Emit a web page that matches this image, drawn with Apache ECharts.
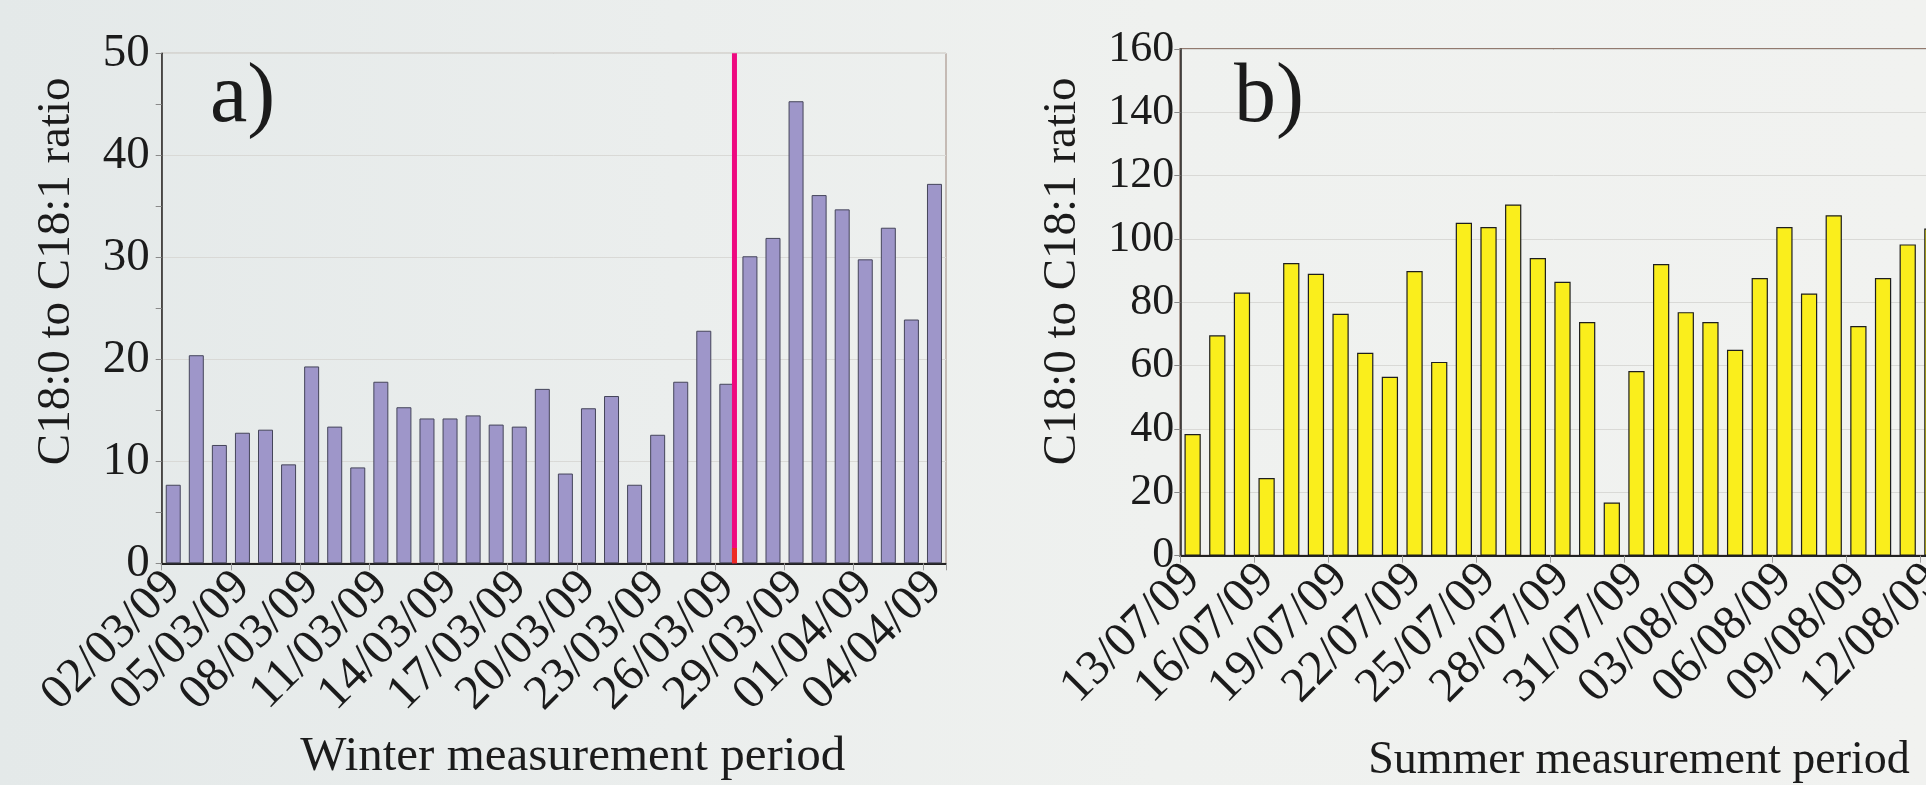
<!DOCTYPE html>
<html>
<head>
<meta charset="utf-8">
<script src="https://cdn.jsdelivr.net/npm/echarts@6/dist/echarts.min.js"></script>
<style>
  html, body { margin: 0; padding: 0; }
  body { width: 1926px; height: 785px; background: linear-gradient(90deg, #e4e9e9 0%, #ebeeed 35%, #eff1ef 60%, #f1f2f0 100%); }
  #chart { width: 1926px; height: 785px; }
</style>
</head>
<body>
<div id="chart"></div>
<script>
// ---------- data ----------
const winterDates = [
  '02/03/09','03/03/09','04/03/09','05/03/09','06/03/09','07/03/09','08/03/09','09/03/09',
  '10/03/09','11/03/09','12/03/09','13/03/09','14/03/09','15/03/09','16/03/09','17/03/09',
  '18/03/09','19/03/09','20/03/09','21/03/09','22/03/09','23/03/09','24/03/09','25/03/09',
  '26/03/09','27/03/09','28/03/09','29/03/09','30/03/09','31/03/09','01/04/09','02/04/09',
  '03/04/09','04/04/09'
];
const winterRatio = [
  7.7, 20.4, 11.6, 12.8, 13.1, 9.7, 19.3, 13.4,
  9.4, 17.8, 15.3, 14.2, 14.2, 14.5, 13.6, 13.4,
  17.1, 8.8, 15.2, 16.4, 7.7, 12.6, 17.8, 22.8,
  17.6, 30.1, 31.9, 45.3, 36.1, 34.7, 29.8, 32.9,
  23.9, 37.2
];
const summerDates = [
  '13/07/09','14/07/09','15/07/09','16/07/09','17/07/09','18/07/09','19/07/09','20/07/09',
  '21/07/09','22/07/09','23/07/09','24/07/09','25/07/09','26/07/09','27/07/09','28/07/09',
  '29/07/09','30/07/09','31/07/09','01/08/09','02/08/09','03/08/09','04/08/09','05/08/09',
  '06/08/09','07/08/09','08/08/09','09/08/09','10/08/09','11/08/09','12/08/09'
];
const summerRatio = [
  38.4, 69.6, 83.1, 24.5, 92.4, 89.0, 76.4, 64.1,
  56.5, 89.9, 61.2, 105.1, 103.8, 110.9, 94.0, 86.5,
  73.8, 16.8, 58.3, 92.1, 76.9, 73.8, 65.0, 87.7,
  103.8, 82.8, 107.5, 72.5, 87.7, 98.3, 103.3
];
const winterTicks = [0, 10, 20, 30, 40, 50];
const summerTicks = [0, 20, 40, 60, 80, 100, 120, 140, 160];
// divider between 26/03/09 and 27/03/09 (in category units)
const winterDivider = 24.83;

// ---------- chart ----------
const FONT = "'Liberation Serif', 'Times New Roman', serif";
const TXT = '#1b1b1b';
const chart = echarts.init(document.getElementById('chart'), null, { renderer: 'canvas' });

function yAxisCommon(ticks, fontSize, margin, minor, gap, padShift) {
  return {
    type: 'value',
    min: ticks[0],
    max: ticks[ticks.length - 1],
    interval: ticks[1] - ticks[0],
    name: 'C18:0 to C18:1 ratio',
    nameLocation: 'middle',
    nameRotate: 90,
    nameGap: gap,
    nameTextStyle: { fontFamily: FONT, fontSize: 47, color: TXT, padding: [0, 0, 0, padShift] },
    axisLine: { show: true, lineStyle: { color: '#2a2a2a', width: 1.5 } },
    axisTick: { show: true, inside: false, length: 6, lineStyle: { color: '#8a8a8a', width: 1 } },
    minorTick: { show: minor, splitNumber: 2, length: 6, lineStyle: { color: '#8a8a8a', width: 1 } },
    axisLabel: { fontFamily: FONT, fontSize: fontSize, color: TXT, margin: margin },
    splitLine: { show: true, lineStyle: { color: '#d9d9d6', width: 1 } }
  };
}

function xAxisCommon(gridIndex, dates, nameText, gap, padShift, nameSize) {
  return {
    type: 'category',
    gridIndex: gridIndex,
    data: dates,
    boundaryGap: true,
    name: nameText,
    nameLocation: 'middle',
    nameGap: gap,
    nameTextStyle: { fontFamily: FONT, fontSize: nameSize, color: TXT, padding: [0, 0, 0, padShift] },
    axisLine: { show: true, lineStyle: { color: '#222', width: 2 } },
    axisTick: { show: true, interval: 2, alignWithLabel: false, length: 7, lineStyle: { color: '#9a9a9a', width: 1 } },
    axisLabel: { interval: 2, rotate: 45, fontFamily: FONT, fontSize: 49, color: TXT, margin: 16 },
    splitLine: { show: false }
  };
}

const option = {
  backgroundColor: 'transparent',
  animation: false,
  title: [
    { text: 'a)', left: 205, top: 52, textStyle: { fontFamily: FONT, fontSize: 84, fontWeight: 'normal', color: TXT } },
    { text: 'b)', left: 1229, top: 52, textStyle: { fontFamily: FONT, fontSize: 84, fontWeight: 'normal', color: TXT } }
  ],
  grid: [
    { left: 161.7, top: 53.3, width: 784.3, height: 510, containLabel: false, outerBoundsMode: 'none',
      show: true, borderColor: '#9c857a', borderWidth: 1, backgroundColor: 'transparent' },
    { left: 1180.3, top: 49, width: 764.4, height: 506.7, containLabel: false, outerBoundsMode: 'none',
      show: true, borderColor: '#927a6f', borderWidth: 2, backgroundColor: 'transparent' }
  ],
  xAxis: [
    xAxisCommon(0, winterDates, 'Winter measurement period', 169, 38, 49),
    xAxisCommon(1, summerDates, 'Summer measurement period', 182, 153, 46),
    { type: 'value', gridIndex: 0, min: 0, max: winterDates.length, show: false }
  ],
  yAxis: [
    Object.assign(yAxisCommon(winterTicks, 47, 12, true, 82, 74), { gridIndex: 0 }),
    Object.assign(yAxisCommon(summerTicks, 44, 6, false, 94, 62), { gridIndex: 1 })
  ],
  series: [
    {
      type: 'bar', xAxisIndex: 0, yAxisIndex: 0, data: winterRatio, barWidth: '65%',
      itemStyle: { color: '#9e96c9', borderColor: '#45455a', borderWidth: 1 }
    },
    {
      type: 'bar', xAxisIndex: 1, yAxisIndex: 1, data: summerRatio, barWidth: '66%',
      itemStyle: { color: '#faee1c', borderColor: '#1e1e1e', borderWidth: 1.2 }
    },
    {
      type: 'line', xAxisIndex: 2, yAxisIndex: 0, symbol: 'none', z: 5,
      data: [[winterDivider, winterTicks[0]], [winterDivider, winterTicks[winterTicks.length - 1]]],
      lineStyle: { color: '#ee0a80', width: 5 }
    },
    {
      type: 'line', xAxisIndex: 2, yAxisIndex: 0, symbol: 'none', z: 6,
      data: [[winterDivider, 0], [winterDivider, 1.5]],
      lineStyle: { color: '#ee2a24', width: 5 }
    }
  ]
};
chart.setOption(option);
</script>
</body>
</html>
